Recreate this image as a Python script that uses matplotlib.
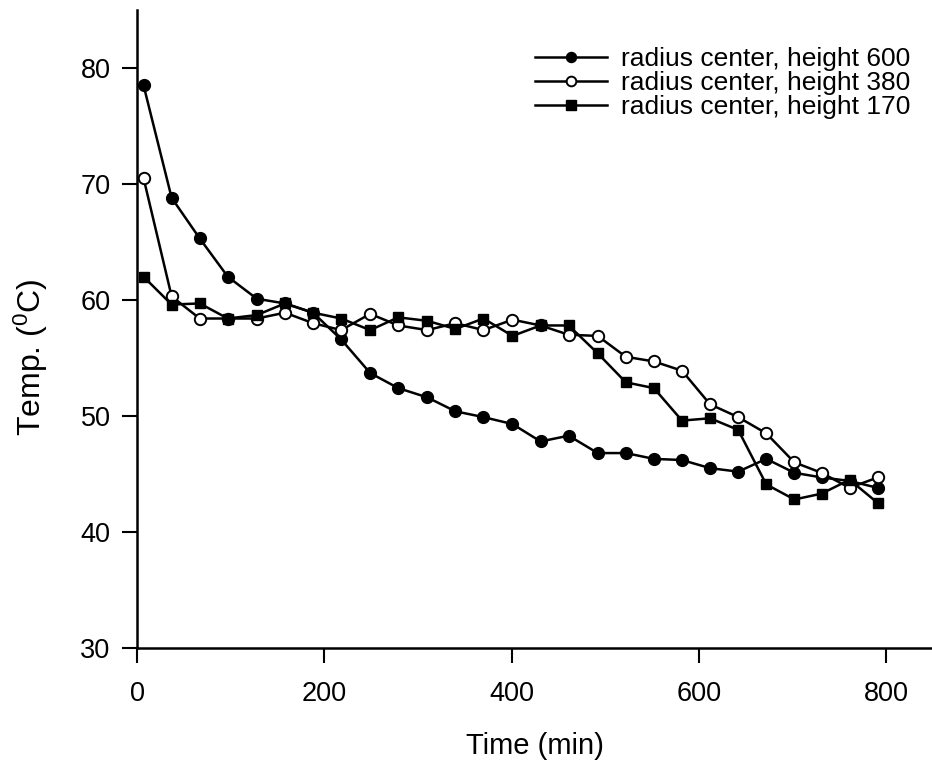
import matplotlib
matplotlib.use("Agg")
import matplotlib.pyplot as plt

plt.rcParams['font.family'] = ['Liberation Sans', 'DejaVu Sans']
plt.rcParams['mathtext.fontset'] = 'custom'
plt.rcParams['mathtext.rm'] = 'Liberation Sans'
plt.rcParams['mathtext.it'] = 'Liberation Sans'

time_min = [7, 37, 67, 97, 128, 158, 188, 218, 249, 279, 310, 340, 370, 401,
            431, 461, 492, 522, 552, 582, 612, 642, 672, 702, 731, 761, 791]
h600 = [78.5, 68.8, 65.3, 62.0, 60.1, 59.7, 58.9, 56.6, 53.7, 52.4, 51.6, 50.4,
        49.9, 49.3, 47.8, 48.3, 46.8, 46.8, 46.3, 46.2, 45.5, 45.2, 46.3, 45.1,
        44.7, 44.4, 43.8]
h380 = [70.5, 60.3, 58.4, 58.4, 58.4, 58.9, 58.0, 57.4, 58.8, 57.8, 57.4, 58.0,
        57.4, 58.3, 57.8, 57.0, 56.9, 55.1, 54.7, 53.9, 51.0, 49.9, 48.5, 46.0,
        45.1, 43.8, 44.7]
h170 = [62.0, 59.6, 59.7, 58.4, 58.7, 59.7, 58.9, 58.4, 57.4, 58.5, 58.2, 57.5,
        58.4, 56.9, 57.8, 57.8, 55.4, 52.9, 52.4, 49.6, 49.8, 48.8, 44.1, 42.8,
        43.3, 44.5, 42.5]
labels = ["radius center, height 600", "radius center, height 380",
          "radius center, height 170"]
xticks = [0, 200, 400, 600, 800]
yticks = [30, 40, 50, 60, 70, 80]

fig = plt.figure(figsize=(9.32, 7.65), dpi=100)
ax = fig.add_axes([0.147, 0.153, 0.853, 0.834])

ax.plot(time_min, h600, '-o', color='black', lw=1.8, ms=8.5,
        mfc='black', mec='black', label=labels[0])
ax.plot(time_min, h380, '-o', color='black', lw=1.8, ms=8.2,
        mfc='white', mec='black', mew=1.4, label=labels[1])
ax.plot(time_min, h170, '-s', color='black', lw=1.8, ms=7.8,
        mfc='black', mec='black', label=labels[2])

ax.set_xlim(0, 849)
ax.set_ylim(30, 85)
ax.set_xticks(xticks)
ax.set_yticks(yticks)
for s in ['top', 'right']:
    ax.spines[s].set_visible(False)
for s in ['left', 'bottom']:
    ax.spines[s].set_linewidth(1.8)
ax.tick_params(axis='both', direction='out', length=11, width=1.5,
               labelsize=19.5)
ax.tick_params(axis='x', pad=13)
ax.tick_params(axis='y', pad=8)

ax.set_xlabel("Time (min)", fontsize=21, labelpad=18)
ax.set_ylabel(r"Temp. ($^{0}$C)", fontsize=23)
ax.yaxis.set_label_coords(-0.11, 0.456)

ax.legend(loc='upper right', bbox_to_anchor=(0.993, 0.966), frameon=False,
          fontsize=19, handlelength=2.7, handletextpad=0.55,
          labelspacing=0.0, borderaxespad=0.2, markerscale=0.85)

fig.savefig("out.png", dpi=100)
